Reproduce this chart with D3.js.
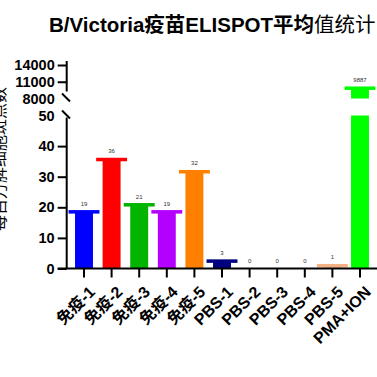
<!DOCTYPE html>
<html>
<head>
<meta charset="utf-8">
<script src="https://cdn.jsdelivr.net/npm/d3@7"></script>
<style>
  body { margin: 0; background: #fff; }
  svg { display: block; font-family: "Liberation Sans", Arial, "Noto Sans CJK SC", sans-serif; }
</style>
</head>
<body>
<svg width="377" height="377"></svg>
<script>
// data
let groups = ["免疫-1", "免疫-2", "免疫-3", "免疫-4", "免疫-5", "PBS-1", "PBS-2", "PBS-3", "PBS-4", "PBS-5", "PMA+ION"];
let spots = [18.6, 35.7, 20.9, 18.6, 31.7, 2.5, 0, 0, 0, 1, 9887];
let colors = ["#0000ff", "#ff0000", "#00b400", "#b400ff", "#ff8000", "#000080", "#888888", "#888888", "#888888", "#f4b183", "#00ff00"];
let lowTicks = [0, 10, 20, 30, 40, 50];
let highTicks = [8000, 11000, 14000];

let svg = d3.select("svg");

let x = d3.scaleBand()
    .domain(groups)
    .range([70.2, 373.8]);

// broken y axis: two segments
let yLow = d3.scaleLinear().domain([0, 50]).range([268.5, 115.5]);
let yHigh = d3.scaleLinear().domain([8000, 14000]).range([98.5, 65]);

let barW = x.bandwidth() * 0.65;
let capW = x.bandwidth() * 1.12;
let cx = d => x(d) + x.bandwidth() / 2;

let data = groups.map((g, i) => ({ group: g, value: spots[i], color: colors[i] }));

// title
let title = svg.append("text")
    .attr("x", 49)
    .attr("y", 32)
    .style("font-size", "20.5px")
    .style("font-weight", "bold")
    .attr("fill", "#000");
title.append("tspan").text("B/Victoria疫苗ELISPOT平均");
title.append("tspan").style("font-weight", "normal").text("值统计");

// y axis title (cut off on the left edge, as in the original)
svg.append("text")
    .attr("transform", "translate(5,159) rotate(-90)")
    .attr("text-anchor", "middle")
    .style("font-size", "16px")
    .text("每百万脾细胞斑点数");

// bars, lower segment
let bars = svg.append("g");
bars.selectAll(".bar")
    .data(data.filter(d => d.value > 0))
    .enter()
    .append("rect")
    .classed("bar", true)
    .attr("x", d => cx(d.group) - barW / 2)
    .attr("y", d => yLow(Math.min(d.value, 50)))
    .attr("width", barW)
    .attr("height", d => yLow(0) - yLow(Math.min(d.value, 50)))
    .attr("fill", d => d.color);

// bars, upper segment
bars.selectAll(".barHigh")
    .data(data.filter(d => d.value > 8000))
    .enter()
    .append("rect")
    .classed("barHigh", true)
    .attr("x", d => cx(d.group) - barW / 2)
    .attr("y", d => yHigh(d.value))
    .attr("width", barW)
    .attr("height", d => yHigh(8000) - yHigh(d.value))
    .attr("fill", d => d.color);

let yOf = d => d.value > 50 ? yHigh(d.value) : yLow(d.value);

// mean caps
bars.selectAll(".cap")
    .data(data.filter(d => d.value > 0))
    .enter()
    .append("rect")
    .classed("cap", true)
    .attr("x", d => cx(d.group) - capW / 2)
    .attr("y", d => Math.min(yOf(d) - 1.5, yLow(0) - 3.5))
    .attr("width", capW)
    .attr("height", 3.5)
    .attr("fill", d => d.color);

// value labels
bars.selectAll(".val")
    .data(data)
    .enter()
    .append("text")
    .classed("val", true)
    .attr("x", d => cx(d.group))
    .attr("y", d => yOf(d) - 6)
    .attr("text-anchor", "middle")
    .style("font-size", "6px")
    .attr("fill", "#333")
    .text(d => Math.round(d.value));

// axes
let axisColor = "#000";
let yLowAxis = svg.append("g")
    .attr("transform", "translate(66.7,0)")
    .call(d3.axisLeft(yLow).tickValues(lowTicks).tickSize(9).tickPadding(3));
let yHighAxis = svg.append("g")
    .attr("transform", "translate(66.7,0)")
    .call(d3.axisLeft(yHigh).tickValues(highTicks).tickFormat(d3.format("d")).tickSize(9).tickPadding(3));

[yLowAxis, yHighAxis].forEach(a => {
    a.select(".domain").remove();
    a.selectAll("line").attr("stroke", axisColor).attr("stroke-width", 2);
    a.selectAll("text")
        .style("font-size", "14.5px")
        .style("font-weight", "bold")
        .attr("fill", "#000");
});
// break ends have a slash instead of a tick
yLowAxis.selectAll(".tick").filter(d => d === 50).select("line").remove();
yHighAxis.selectAll(".tick").filter(d => d === 8000).select("line").remove();

// segment lines and break marks
svg.append("line")
    .attr("x1", 66.7).attr("x2", 66.7)
    .attr("y1", yLow(0)).attr("y2", yLow(50) + 2)
    .attr("stroke", axisColor).attr("stroke-width", 2);
svg.append("line")
    .attr("x1", 66.7).attr("x2", 66.7)
    .attr("y1", 61).attr("y2", yHigh(8000) - 7)
    .attr("stroke", axisColor).attr("stroke-width", 2);
[yHigh(8000), yLow(50)].forEach(yy => {
    svg.append("line")
        .attr("x1", 62).attr("y1", yy - 5)
        .attr("x2", 70).attr("y2", yy + 3)
        .attr("stroke", axisColor).attr("stroke-width", 2);
});

// x axis
let xAxis = svg.append("g")
    .attr("transform", "translate(0," + yLow(0) + ")")
    .call(d3.axisBottom(x).tickSize(9).tickSizeOuter(0).tickFormat(""));
xAxis.select(".domain").remove();
xAxis.selectAll("line").attr("stroke", axisColor).attr("stroke-width", 2);
svg.append("line")
    .attr("x1", 57.7).attr("x2", 377)
    .attr("y1", yLow(0)).attr("y2", yLow(0))
    .attr("stroke", axisColor).attr("stroke-width", 2);

svg.append("g").selectAll(".xlab")
    .data(groups)
    .enter()
    .append("text")
    .classed("xlab", true)
    .attr("transform", d => "translate(" + (cx(d) + 8) + ",289) rotate(-45)")
    .attr("text-anchor", "end")
    .attr("dy", "0.35em")
    .style("font-size", "16px")
    .style("font-weight", "bold")
    .text(d => d);
</script>
</body>
</html>
